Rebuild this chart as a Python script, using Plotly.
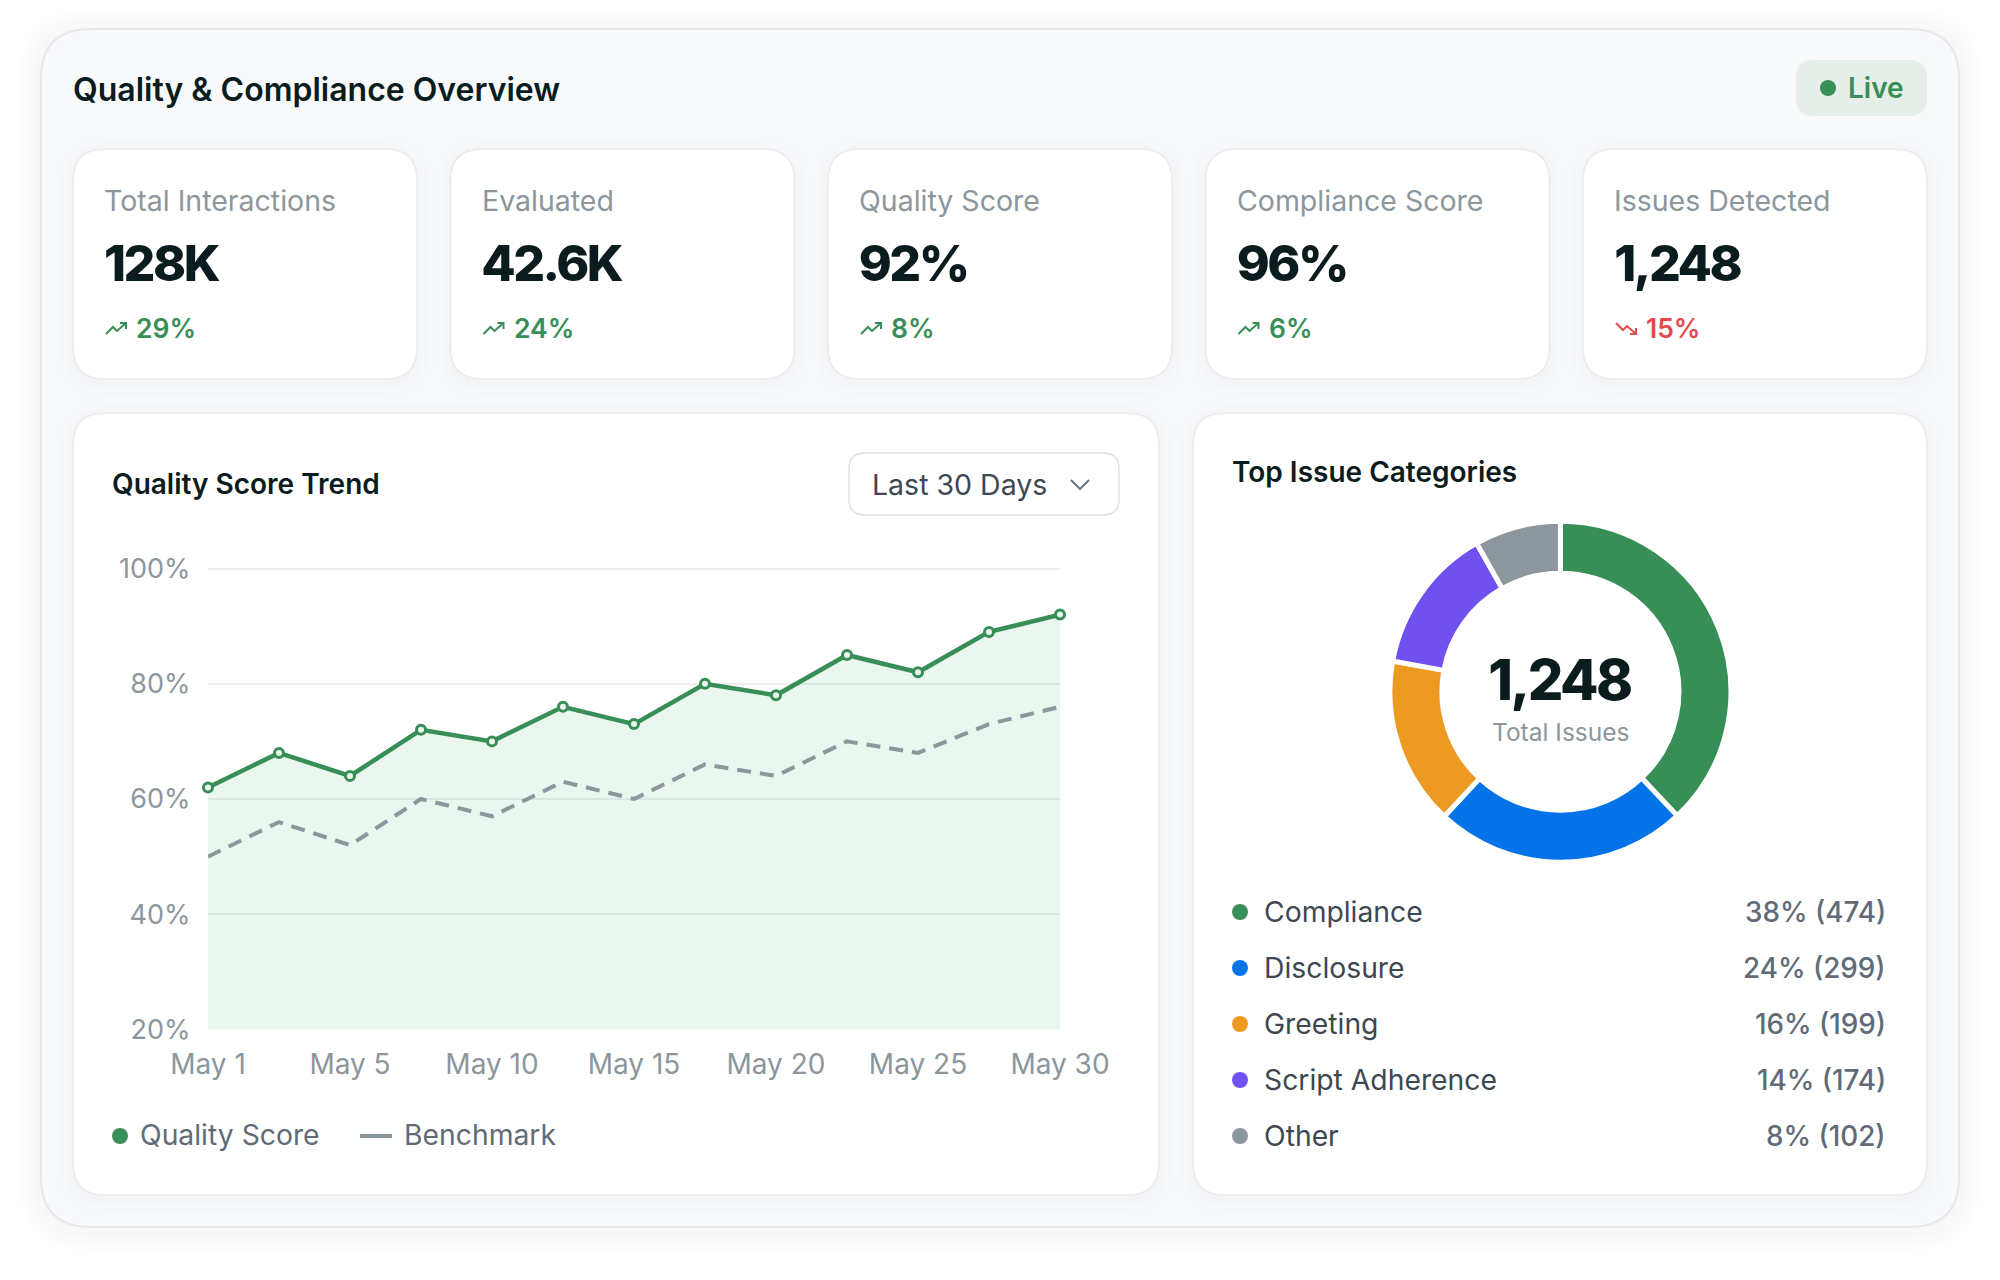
# Quality & compliance dashboard card rebuilt with Plotly
import plotly.graph_objects as go

W, H = 2000, 1280

# KPI row
kpi_labels = ['Total Interactions', 'Evaluated', 'Quality Score', 'Compliance Score', 'Issues Detected']
kpi_values = ['128K', '42.6K', '92%', '96%', '1,248']
kpi_deltas = ['29%', '24%', '8%', '6%', '15%']
kpi_up = [True, True, True, True, False]

# Trend chart
trend_dates = ['May 1', 'May 3', 'May 5', 'May 8', 'May 10', 'May 13', 'May 15',
               'May 18', 'May 20', 'May 23', 'May 25', 'May 28', 'May 30']
quality_score = [62, 68, 64, 72, 70, 76, 73, 80, 78, 85, 82, 89, 92]
benchmark = [50, 56, 52, 60, 57, 63, 60, 66, 64, 70, 68, 73, 76]
x_ticks = ['May 1', 'May 5', 'May 10', 'May 15', 'May 20', 'May 25', 'May 30']
y_ticks = [20, 40, 60, 80, 100]
y_tick_labels = ['20%', '40%', '60%', '80%', '100%']

# Issue categories
issue_names = ['Compliance', 'Disclosure', 'Greeting', 'Script Adherence', 'Other']
issue_counts = [474, 299, 199, 174, 102]
issue_shares = [38, 24, 16, 14, 8]
issue_total = '1,248'

GREEN = '#388E57'
RED = '#E5484D'
GREY = '#8C969D'
DARK = '#0B1C1F'
FONT = 'Inter'
issue_colors = [GREEN, '#0473E7', '#EC9A22', '#7050EE', GREY]

shapes = []
annotations = []


def px(x):
    return x / W


def py(y):
    return 1 - y / H


def add_round_rect(x0, y0, x1, y1, r, fill, line=None, line_width=0, opacity=1):
    # rounded rectangle as an svg path, pixel input
    c = [
        (x0 + r, y0), (x1 - r, y0), (x1, y0), (x1, y0 + r), (x1, y1 - r), (x1, y1),
        (x1 - r, y1), (x0 + r, y1), (x0, y1), (x0, y1 - r), (x0, y0 + r), (x0, y0), (x0 + r, y0),
    ]
    c = [f'{px(a):.5f},{py(b):.5f}' for a, b in c]
    path = (f'M {c[0]} L {c[1]} Q {c[2]} {c[3]} L {c[4]} Q {c[5]} {c[6]} '
            f'L {c[7]} Q {c[8]} {c[9]} L {c[10]} Q {c[11]} {c[12]} Z')
    shapes.append(dict(type='path', path=path, xref='paper', yref='paper', fillcolor=fill,
                       opacity=opacity, layer='below',
                       line=dict(color=line or 'rgba(0,0,0,0)', width=line_width)))


def add_shadow(x0, y0, x1, y1, r, spread, dy):
    for s in range(spread, 0, -3):
        add_round_rect(x0 - s, y0 - s + dy, x1 + s, y1 + s + dy, r + s, '#1B2A33', opacity=0.0035)


def add_card(x0, y0, x1, y1, r, spread=14, dy=4):
    add_shadow(x0, y0, x1, y1, r, spread, dy)
    add_round_rect(x0, y0, x1, y1, r, '#FFFFFF', '#E9EBEE', 1.5)


def add_polyline(points, color, width):
    path = 'M ' + ' L '.join(f'{px(a):.5f},{py(b):.5f}' for a, b in points)
    shapes.append(dict(type='path', path=path, xref='paper', yref='paper', layer='below',
                       line=dict(color=color, width=width)))


def add_dot(cx, cy, r, color):
    shapes.append(dict(type='circle', xref='paper', yref='paper', layer='below',
                       x0=px(cx - r), x1=px(cx + r), y0=py(cy + r), y1=py(cy - r),
                       fillcolor=color, line=dict(width=0)))


def add_text(x, y, text, size, color, weight=400, anchor='left'):
    annotations.append(dict(x=px(x), y=py(y), xref='paper', yref='paper', text=text,
                            showarrow=False, xanchor=anchor, yanchor='middle', borderpad=0,
                            font=dict(family=FONT, size=size, color=color, weight=weight)))


# outer panel
add_shadow(41, 29, 1959, 1227, 50, 24, 2)
add_round_rect(41, 29, 1959, 1227, 50, '#F8F9FB', '#E6E8EB', 2)
add_text(72, 89, 'Quality &amp; Compliance Overview', 32, DARK, 600)

# live badge
add_round_rect(1796, 60, 1927, 116, 18, '#E5EEE9')
add_dot(1828, 88, 8, GREEN)
add_text(1847, 88.5, 'Live', 28, GREEN, 600)

# KPI cards
card_starts = [73, 450.5, 828, 1205.5, 1583]
for i, start in enumerate(card_starts):
    add_card(start, 149, start + 344, 379, 32)
    add_text(start + 30, 200, kpi_labels[i], 28.5, GREY)
    # letter-spacing below pulls the text towards its box centre, so start further left
    add_text(start + 30 - len(kpi_values[i]) * 1.25, 263, kpi_values[i], 50, DARK, 800)
    color = GREEN if kpi_up[i] else RED
    add_text(start + 62, 328, kpi_deltas[i], 26.5, color, 600)
    ix = start + 33
    if kpi_up[i]:
        add_polyline([(ix, 334), (ix + 7, 327), (ix + 11, 331), (ix + 20, 323)], color, 2)
        add_polyline([(ix + 14, 323), (ix + 20, 323), (ix + 20, 329)], color, 2)
    else:
        add_polyline([(ix, 323), (ix + 7, 330), (ix + 11, 326), (ix + 20, 334)], color, 2)
        add_polyline([(ix + 14, 334), (ix + 20, 334), (ix + 20, 328)], color, 2)

# lower panels
add_card(73, 413, 1159, 1195, 32)
add_card(1193, 413, 1927, 1195, 32)

# trend panel header and dropdown
add_text(111, 484, 'Quality Score Trend', 28, DARK, 600)
add_round_rect(849, 453, 1119, 515, 16, '#FFFFFF', '#DDE0E4', 1.5)
add_text(871, 484, 'Last 30 Days', 28.5, '#3D4852')
add_polyline([(1071, 480), (1080, 489), (1089, 480)], '#6B7580', 2)

# trend legend
add_dot(120, 1136, 8, GREEN)
add_text(139, 1135, 'Quality Score', 28.3, '#5F6B76')
add_polyline([(360, 1136), (392, 1136)], GREY, 4)
add_text(403, 1135, 'Benchmark', 28.3, '#5F6B76')

# issues panel
add_text(1231, 472, 'Top Issue Categories', 28, DARK, 600)
add_text(1559, 680, issue_total, 56, DARK, 800, 'center')
add_text(1560, 732, 'Total Issues', 24.5, GREY, 400, 'center')
rows_y = [912, 968, 1024, 1080, 1136]
for i, name in enumerate(issue_names):
    add_dot(1240, rows_y[i], 8, issue_colors[i])
    add_text(1263, rows_y[i], name, 28.3, '#3D4852')
    add_text(1887, rows_y[i], f'{issue_shares[i]}% ({issue_counts[i]})', 27.8, '#5F6B76', 500, 'right')

fig = go.Figure()

fig.add_trace(go.Scatter(
    x=trend_dates, y=quality_score, mode='lines+markers', name='Quality Score',
    line=dict(color=GREEN, width=4.5), fill='tozeroy', fillcolor='rgba(60,170,100,0.10)',
    marker=dict(size=9, color='#EDF5F0', line=dict(color=GREEN, width=3)),
    cliponaxis=False, showlegend=False,
))
fig.add_trace(go.Scatter(
    x=trend_dates, y=benchmark, mode='lines', name='Benchmark',
    line=dict(color=GREY, width=4, dash='14px,9px'), cliponaxis=False, showlegend=False,
))

# pie domain is sized so the visible ring matches
cx, cy, R = 1560.4, 691.7, 170.5
fig.add_trace(go.Pie(
    labels=issue_names, values=issue_counts, hole=0.695, sort=False, direction='clockwise',
    rotation=0, textinfo='none', showlegend=False,
    marker=dict(colors=issue_colors, line=dict(color='#FFFFFF', width=5)),
    domain=dict(x=[px(cx - R), px(cx + R)], y=[py(cy + R), py(cy - R)]),
))

fig.update_layout(
    width=W, height=H, autosize=False,
    margin=dict(l=0, r=0, t=0, b=0, pad=0, autoexpand=False),
    paper_bgcolor='#FFFFFF', plot_bgcolor='rgba(0,0,0,0)',
    font=dict(family=FONT, size=27, color=GREY),
    shapes=shapes, annotations=annotations,
    xaxis=dict(
        domain=[px(208), px(1060)], type='category', categoryorder='array',
        categoryarray=trend_dates, range=[0, 12], tickmode='array', tickvals=x_ticks,
        showgrid=False, zeroline=False, showline=False, ticks='outside', ticklen=10,
        tickcolor='rgba(0,0,0,0)', tickfont=dict(family=FONT, size=28, color=GREY),
    ),
    yaxis=dict(
        # top of the range sits just past 100 so the 100% gridline is kept
        domain=[py(1029.5), py(567.35)], range=[20, 100.2], tickmode='array', tickvals=y_ticks,
        ticktext=y_tick_labels, showgrid=True, gridcolor='#ECEEF0', gridwidth=1.5,
        zeroline=False, showline=False, ticks='outside', ticklen=11,
        tickcolor='rgba(0,0,0,0)', tickfont=dict(family=FONT, size=27, color=GREY),
    ),
)

# tighten the big numbers, plotly has no letter-spacing option
tighten = """
document.body.style.margin='0';document.body.style.overflow='hidden';
function tighten(){document.querySelectorAll('.annotation-text').forEach(function(t){
  if(parseFloat(t.style.fontSize)>=50){t.style.letterSpacing='-2.5px';}
});}
tighten();
var gd=document.querySelector('.js-plotly-plot');if(gd&&gd.on){gd.on('plotly_afterplot',tighten);}
"""
fig.write_html("out.html", config={'displayModeBar': False}, post_script=tighten)
